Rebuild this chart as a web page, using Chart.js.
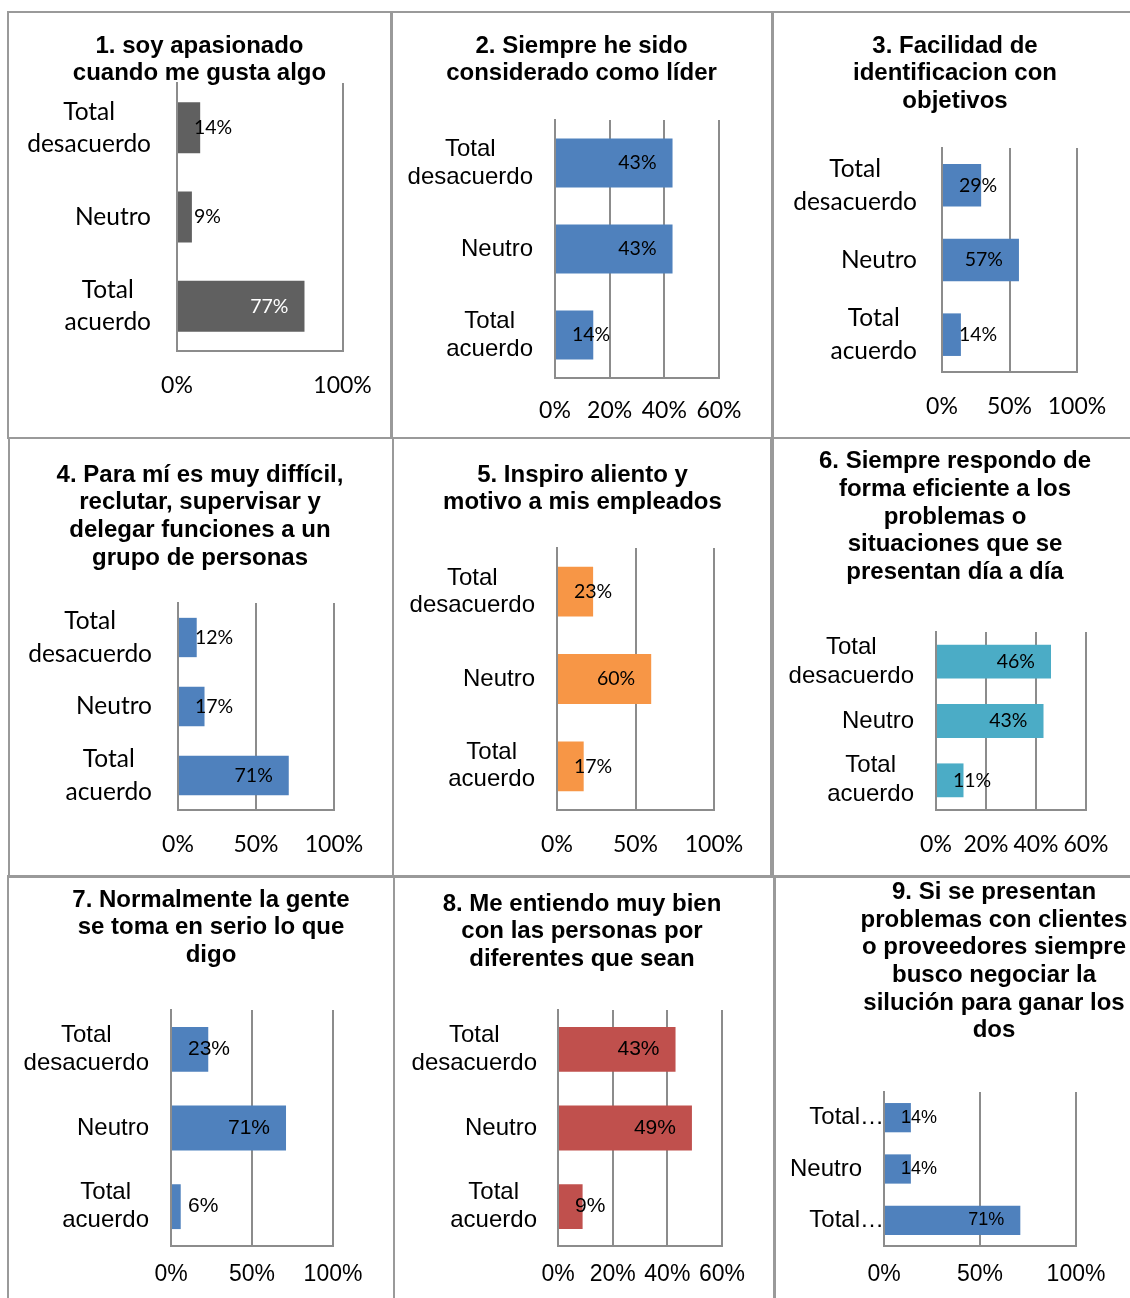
<!DOCTYPE html>
<html lang="es">
<head>
<meta charset="utf-8">
<title>Resultados de la encuesta</title>
<script src="https://cdn.jsdelivr.net/npm/chart.js@4.4.1/dist/chart.umd.min.js"></script>
<style>
  html, body { margin: 0; padding: 0; background: #fff; }
  #hoja { position: relative; width: 1130px; height: 1298px; overflow: hidden; }
  .panel { position: absolute; box-sizing: border-box; border: 2px solid #9a9a9a; }
  .panel canvas { position: absolute; left: -2px; top: -2px; }
</style>
</head>
<body>
<div id="hoja"></div>
<script>
// Categorías de respuesta (iguales en las 9 preguntas)
const categorias = [['Total', 'desacuerdo'], 'Neutro', ['Total', 'acuerdo']];

// Porcentajes por pregunta, en el orden de las categorías
const valores1 = [14, 9, 77];
const valores2 = [43, 43, 14];
const valores3 = [29, 57, 14];
const valores4 = [12, 17, 71];
const valores5 = [23, 60, 17];
const valores6 = [46, 43, 11];
const valores7 = [23, 71, 6];
const valores8 = [43, 49, 9];
const valores9 = [14, 14, 71];

// Marcas del eje horizontal
const escala100 = [0, 50, 100];
const escala60 = [0, 20, 40, 60];

const titulo1 = ['1. soy apasionado', 'cuando me gusta algo'];
const titulo2 = ['2. Siempre he sido', 'considerado como líder'];
const titulo3 = ['3. Facilidad de', 'identificacion con', 'objetivos'];
const titulo4 = ['4. Para mí es muy diffícil,', 'reclutar, supervisar y', 'delegar funciones a un', 'grupo de personas'];
const titulo5 = ['5. Inspiro aliento y', 'motivo a mis empleados'];
const titulo6 = ['6. Siempre respondo de', 'forma eficiente a los', 'problemas o', 'situaciones que se', 'presentan día a día'];
const titulo7 = ['7. Normalmente la gente', 'se toma en serio lo que', 'digo'];
const titulo8 = ['8. Me entiendo muy bien', 'con las personas por', 'diferentes que sean'];
const titulo9 = ['9. Si se presentan', 'problemas con clientes', 'o proveedores siempre', 'busco negociar la', 'silución para ganar los', 'dos'];

const CALIBRI = 'Lato, sans-serif';
const ARIAL = '"Liberation Sans", Arial, sans-serif';
const GRIS = '#8c8c8c';
const AZUL = '#4f81bd';

// caja: [x, y, ancho, alto] del recuadro; area: [izq, arriba, der, abajo] de la zona de barras
const paneles = [
  { titulo: titulo1, valores: valores1, marcas: [0, 100], color: '#606060', colores: ['#000', '#000', '#fff'],
    caja: [7, 11, 386, 428], area: [177, 83, 345, 351], tx: 199.5, ty: 46, etqDer: 151, ejeY: 386,
    fCat: CALIBRI, tCat: 24.5, saltoCat: 32, fEje: CALIBRI, tEje: 23, fDato: CALIBRI, tDato: 19.5 },
  { titulo: titulo2, valores: valores2, marcas: escala60, color: AZUL, colores: ['#000', '#000', '#000'],
    caja: [390, 11, 384, 428], area: [555, 120, 719, 378], tx: 581.5, ty: 46, etqDer: 533, ejeY: 411,
    fCat: ARIAL, tCat: 24, saltoCat: 28, fEje: CALIBRI, tEje: 23, fDato: CALIBRI, tDato: 19.5 },
  { titulo: titulo3, valores: valores3, marcas: escala100, color: AZUL, colores: ['#000', '#000', '#000'],
    caja: [771, 11, 363, 428], area: [942, 148, 1077, 372], tx: 955, ty: 46, etqDer: 917, ejeY: 407,
    fCat: CALIBRI, tCat: 24.5, saltoCat: 33, fEje: CALIBRI, tEje: 23, fDato: CALIBRI, tDato: 19.5 },
  { titulo: titulo4, valores: valores4, marcas: escala100, color: AZUL, colores: ['#000', '#000', '#000'],
    caja: [8, 437, 386, 441], area: [178, 603, 334, 810], tx: 200, ty: 475, etqDer: 152, ejeY: 845,
    fCat: CALIBRI, tCat: 24.5, saltoCat: 33, fEje: CALIBRI, tEje: 23, fDato: CALIBRI, tDato: 19.5 },
  { titulo: titulo5, valores: valores5, marcas: escala100, color: '#f79646', colores: ['#000', '#000', '#000'],
    caja: [392, 437, 382, 441], area: [557, 548, 714, 810], tx: 582.5, ty: 475, etqDer: 535, ejeY: 845,
    fCat: ARIAL, tCat: 24, saltoCat: 27, fEje: CALIBRI, tEje: 23, fDato: CALIBRI, tDato: 19.5 },
  { titulo: titulo6, valores: valores6, marcas: escala60, color: '#4bacc6', colores: ['#000', '#000', '#000'],
    caja: [770, 437, 364, 441], area: [936, 632, 1086, 810], tx: 955, ty: 461.5, etqDer: 914, ejeY: 845,
    fCat: ARIAL, tCat: 24, saltoCat: 29, fEje: CALIBRI, tEje: 23, fDato: CALIBRI, tDato: 19.5 },
  { titulo: titulo7, valores: valores7, marcas: escala100, color: AZUL, colores: ['#000', '#000', '#000'],
    caja: [7, 875, 388, 430], area: [171, 1010, 333, 1246], tx: 211, ty: 900, etqDer: 149, ejeY: 1275,
    fCat: ARIAL, tCat: 24, saltoCat: 28, fEje: ARIAL, tEje: 23, fDato: ARIAL, tDato: 21 },
  { titulo: titulo8, valores: valores8, marcas: escala60, color: '#c0504d', colores: ['#000', '#000', '#000'],
    caja: [393, 875, 383, 430], area: [558, 1010, 722, 1246], tx: 582, ty: 904, etqDer: 537, ejeY: 1275,
    fCat: ARIAL, tCat: 24, saltoCat: 28, fEje: ARIAL, tEje: 23, fDato: ARIAL, tDato: 21 },
  { titulo: titulo9, valores: valores9, marcas: escala100, color: AZUL, colores: ['#000', '#000', '#000'],
    caja: [773, 875, 361, 430], area: [884, 1092, 1076, 1246], tx: 994, ty: 892.3, etqDer: 862, ejeY: 1275,
    fCat: ARIAL, tCat: 24, saltoCat: 28, fEje: ARIAL, tEje: 23, fDato: ARIAL, tDato: 18,
    abreviar: true, etqDerAbreviada: 884 }
];

// Título en negrita, varias líneas centradas
const tituloPanel = {
  id: 'tituloPanel',
  afterDraw(chart, args, opts) {
    const ctx = chart.ctx;
    ctx.save();
    ctx.font = 'bold 24px "Liberation Sans", Arial, sans-serif';
    ctx.fillStyle = '#000';
    ctx.textAlign = 'center';
    ctx.textBaseline = 'middle';
    opts.lineas.forEach((linea, i) => ctx.fillText(linea, opts.x, opts.y + i * 27.7));
    ctx.restore();
  }
};

// Nombres de categoría: bloque alineado a la derecha, líneas centradas entre sí
const etiquetasCategorias = {
  id: 'etiquetasCategorias',
  afterDraw(chart, args, opts) {
    const escala = chart.scales.y;
    const ctx = chart.ctx;
    ctx.save();
    ctx.font = opts.tam + 'px ' + opts.familia;
    ctx.fillStyle = '#000';
    ctx.textAlign = 'center';
    ctx.textBaseline = 'middle';
    chart.data.labels.forEach((etiqueta, i) => {
      let lineas = Array.isArray(etiqueta) ? etiqueta : [etiqueta];
      let der = opts.der;
      if (opts.abreviar && lineas.length > 1) {
        lineas = [lineas[0] + '…'];
        der = opts.derAbreviada;
      }
      const ancho = Math.max(...lineas.map(l => ctx.measureText(l).width));
      const cx = der - ancho / 2;
      const y0 = escala.getPixelForTick(i) - (lineas.length - 1) * opts.salto / 2;
      lineas.forEach((l, j) => ctx.fillText(l, cx, y0 + j * opts.salto));
    });
    ctx.restore();
  }
};

// Etiqueta de porcentaje al final de cada barra (si no cabe, se corre a la derecha)
const etiquetasDatos = {
  id: 'etiquetasDatos',
  afterDatasetsDraw(chart, args, opts) {
    const ctx = chart.ctx;
    const datos = chart.data.datasets[0].data;
    ctx.save();
    ctx.font = opts.tam + 'px ' + opts.familia;
    ctx.textAlign = 'left';
    ctx.textBaseline = 'middle';
    chart.getDatasetMeta(0).data.forEach((barra, i) => {
      const texto = datos[i] + '%';
      const ancho = ctx.measureText(texto).width;
      const x = Math.max(barra.x - 16 - ancho, barra.base + 16);
      ctx.fillStyle = opts.colores[i];
      ctx.fillText(texto, x, barra.y);
    });
    ctx.restore();
  }
};

const hoja = document.getElementById('hoja');
const ALTO_EJE_X = 50;

paneles.forEach(p => {
  const [px, py, pw, ph] = p.caja;
  const [izq, arriba, der, abajo] = p.area;

  const div = document.createElement('div');
  div.className = 'panel';
  div.style.left = px + 'px';
  div.style.top = py + 'px';
  div.style.width = pw + 'px';
  div.style.height = ph + 'px';
  const canvas = document.createElement('canvas');
  canvas.width = pw;
  canvas.height = ph;
  canvas.style.width = pw + 'px';
  canvas.style.height = ph + 'px';
  div.appendChild(canvas);
  hoja.appendChild(div);

  const maximo = p.marcas[p.marcas.length - 1];

  new Chart(canvas, {
    type: 'bar',
    data: {
      labels: categorias,
      datasets: [{
        data: p.valores,
        backgroundColor: p.color,
        categoryPercentage: 1,
        barPercentage: 0.57
      }]
    },
    options: {
      indexAxis: 'y',
      responsive: false,
      animation: false,
      devicePixelRatio: 1,
      layout: {
        padding: { left: 0, top: arriba - py, right: px + pw - der, bottom: py + ph - abajo - ALTO_EJE_X }
      },
      plugins: {
        legend: { display: false },
        tooltip: { enabled: false },
        tituloPanel: { lineas: p.titulo, x: p.tx - px, y: p.ty - py },
        etiquetasCategorias: {
          familia: p.fCat, tam: p.tCat, salto: p.saltoCat, der: p.etqDer - px,
          abreviar: !!p.abreviar, derAbreviada: (p.etqDerAbreviada || p.etqDer) - px
        },
        etiquetasDatos: { colores: p.colores, familia: p.fDato, tam: p.tDato }
      },
      scales: {
        x: {
          min: 0,
          max: maximo,
          afterBuildTicks: escala => { escala.ticks = p.marcas.map(v => ({ value: v })); },
          ticks: {
            color: '#000',
            autoSkip: false,
            minRotation: 0,
            maxRotation: 0,
            padding: p.ejeY - abajo - p.tEje * 0.6,
            font: { family: p.fEje, size: p.tEje },
            callback: v => v + '%'
          },
          grid: { color: GRIS, lineWidth: 2, drawTicks: false },
          border: { color: GRIS, width: 2 },
          afterFit: escala => { escala.height = ALTO_EJE_X; }
        },
        y: {
          ticks: { display: false },
          grid: { display: false },
          border: { color: GRIS, width: 2 },
          afterFit: escala => { escala.width = izq - px; }
        }
      }
    },
    plugins: [tituloPanel, etiquetasCategorias, etiquetasDatos]
  });
});
</script>
</body>
</html>
